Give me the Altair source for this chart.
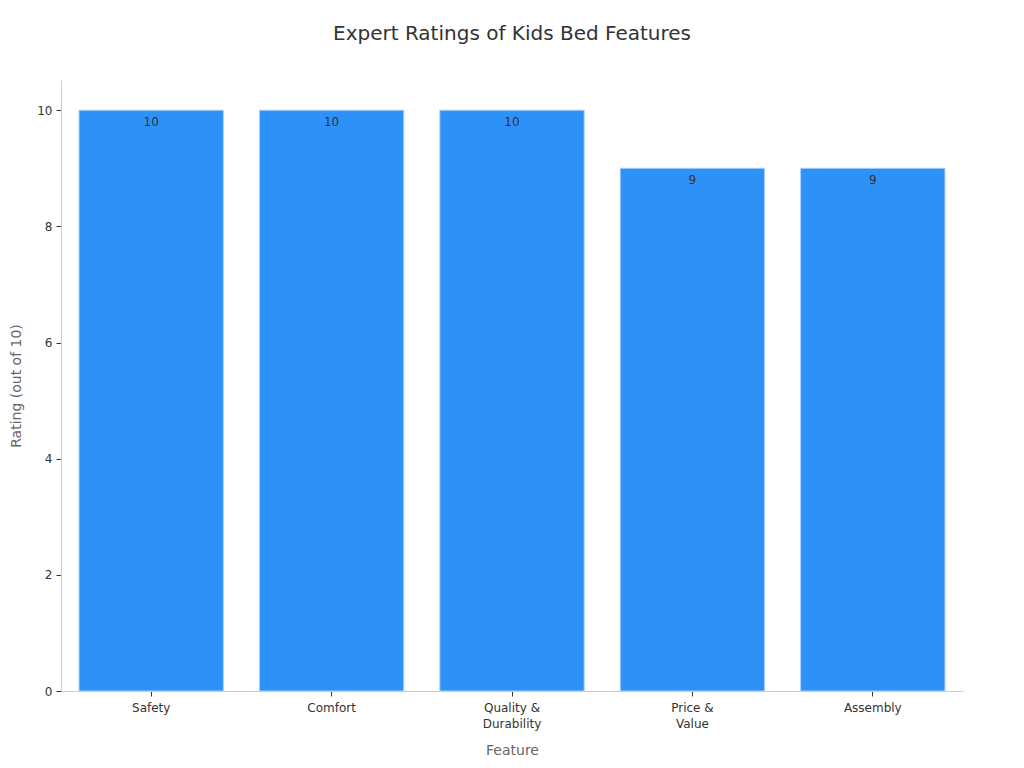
import altair as alt
import pandas as pd

features = ["Safety", "Comfort", "Quality & Durability", "Price & Value", "Assembly"]
ratings = [10, 10, 10, 9, 9]

df = pd.DataFrame({"Feature": features, "Rating": ratings})

base = alt.Chart(df).encode(
    x=alt.X("Feature:N", sort=features, title="Feature",
            scale=alt.Scale(paddingInner=0.2, paddingOuter=0.1),
            axis=alt.Axis(labelAngle=0, labelExpr="split(replace(datum.label, '& ', '&|'), '|')",
                          labelFontSize=12, labelColor="#333333", titleFontSize=14,
                          titleColor="#666666", titleFontWeight="normal", domainColor="#cccccc",
                          tickColor="#333333", tickSize=5, labelPadding=6, labelLineHeight=16,
                          titlePadding=14,
                          titleFont="DejaVu Sans", labelFont="DejaVu Sans")),
    y=alt.Y("Rating:Q", title="Rating (out of 10)",
            scale=alt.Scale(domain=[0, 10.52], nice=False),
            axis=alt.Axis(values=[0, 2, 4, 6, 8, 10], grid=False, labelFontSize=12,
                          labelColor="#333333", titleFontSize=14, titleColor="#666666",
                          titleFontWeight="normal", domainColor="#cccccc", tickColor="#333333",
                          tickSize=5, labelPadding=4, titlePadding=13,
                          titleFont="DejaVu Sans", labelFont="DejaVu Sans")),
)

bars = base.mark_bar(color="#2E91F7", stroke="#a8d0fb", strokeWidth=1)
labels = base.mark_text(baseline="top", dy=7, fontSize=12, color="#333333", font="DejaVu Sans").encode(
    text="Rating:Q")

chart = (bars + labels).properties(
    width=902, height=611,
    title=alt.TitleParams("Expert Ratings of Kids Bed Features", fontSize=20, color="#333333",
                          fontWeight="normal", font="DejaVu Sans", offset=36),
    autosize=alt.AutoSizeParams(type="none"),
    padding={"left": 53, "top": 72, "right": 53, "bottom": 69},
).configure_view(stroke=None)

chart.save("out.html", embed_options={"renderer": "svg", "actions": False})
